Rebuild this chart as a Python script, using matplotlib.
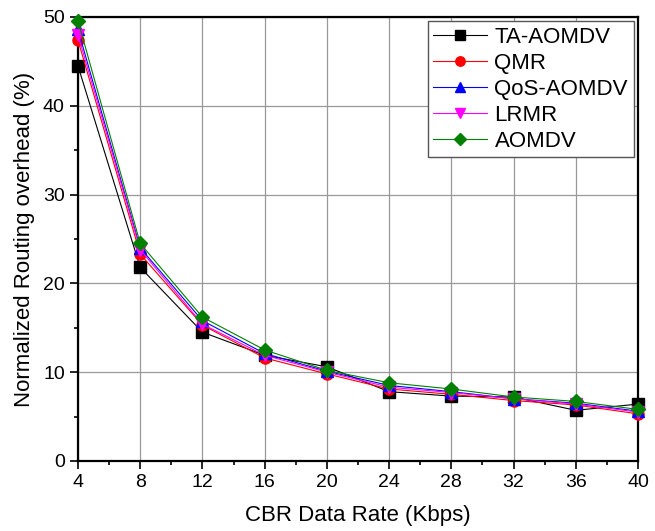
import matplotlib
matplotlib.use("Agg")
import matplotlib.pyplot as plt
from matplotlib.ticker import MultipleLocator

plt.rcParams['font.family'] = ['Liberation Sans', 'DejaVu Sans']

rate = [4, 8, 12, 16, 20, 24, 28, 32, 36, 40]
ta_aomdv = [44.5, 21.8, 14.5, 11.9, 10.6, 7.8, 7.3, 7.2, 5.7, 6.4]
qmr = [47.4, 23.3, 15.3, 11.6, 9.8, 8.1, 7.5, 6.8, 6.3, 5.3]
qos_aomdv = [48.6, 24.0, 15.8, 12.1, 10.1, 8.5, 7.8, 7.0, 6.5, 5.6]
lrmr = [48.0, 23.8, 15.4, 11.9, 10.0, 8.3, 7.7, 7.0, 6.4, 5.5]
aomdv = [49.6, 24.5, 16.2, 12.5, 10.2, 8.8, 8.1, 7.2, 6.7, 5.8]

series = [
    ('TA-AOMDV', ta_aomdv, 'black', 's'),
    ('QMR', qmr, 'red', 'o'),
    ('QoS-AOMDV', qos_aomdv, 'blue', '^'),
    ('LRMR', lrmr, 'magenta', 'v'),
    ('AOMDV', aomdv, 'green', 'D'),
]

fig = plt.figure(figsize=(6.55, 5.31), dpi=100)
ax = fig.add_axes([0.119, 0.132, 0.855, 0.836])

for label, vals, color, marker in series:
    ms = 7 if marker == 'D' else 8
    ax.plot(rate, vals, color=color, marker=marker, markersize=ms, linewidth=0.8,
            label=label, clip_on=False, zorder=3)

ax.set_xlim(4, 40)
ax.set_ylim(0, 50)
ax.xaxis.set_major_locator(MultipleLocator(4))
ax.xaxis.set_minor_locator(MultipleLocator(2))
ax.yaxis.set_major_locator(MultipleLocator(10))
ax.yaxis.set_minor_locator(MultipleLocator(5))
ax.tick_params(which='both', direction='out', labelsize=14, width=1.2)
ax.tick_params(which='major', length=6)
ax.tick_params(which='minor', length=3)
ax.grid(True, which='major', color='#999999', linewidth=0.9)
for s in ax.spines.values():
    s.set_linewidth(1.6)

ax.set_xlabel('CBR Data Rate (Kbps)', fontsize=16, labelpad=10)
ax.set_ylabel('Normalized Routing overhead (%)', fontsize=16, labelpad=6)

leg = ax.legend(loc='upper right', fontsize=16, fancybox=False, framealpha=1,
                edgecolor='#555555', handlelength=2.4, borderpad=0.25,
                labelspacing=0.22, handletextpad=0.35, markerscale=0.85,
                borderaxespad=0.2)
leg.get_frame().set_linewidth(1.0)

fig.savefig('out.png', dpi=100)
